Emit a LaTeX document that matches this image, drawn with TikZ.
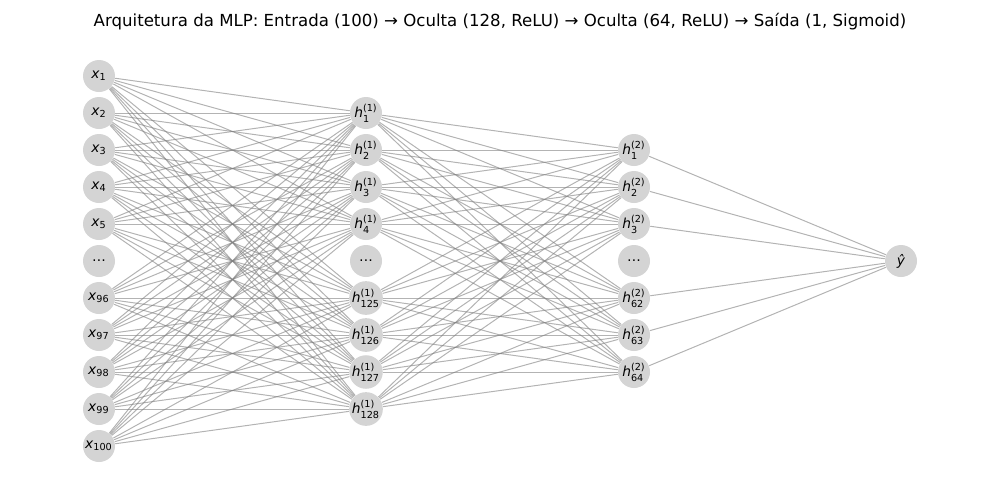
\documentclass[tikz,border=0pt]{standalone}
\usepackage{amsmath}
\usepackage{fontspec}
\setmainfont{DejaVu Sans}
\usetikzlibrary{backgrounds}

\begin{document}
\begin{tikzpicture}[
  x=0.5pt, y=-0.5pt,
  neuron/.style={circle, fill=black!17, minimum size=16pt, inner sep=0pt, font=\fontsize{6.9}{7}\selectfont},
  weight/.style={draw=gray, draw opacity=0.6, line width=0.5pt},
  title/.style={font=\fontsize{8.3}{10}\selectfont}
]
  \useasboundingbox (0,0) rectangle (1000,500);

  \node (title) at (500,22) [title] {Arquitetura da MLP: Entrada (100) → Oculta (128, ReLU) → Oculta (64, ReLU) → Saída (1, Sigmoid)};

  % entrada
  \foreach \i/\lab in {1/1,2/2,3/3,4/4,5/5,7/96,8/97,9/98,10/99,11/100}
    \node (in-\i) at (99,{76+37*(\i-1)}) [neuron] {\textit{x}\textsubscript{\lab}};
  \node (in-6) at (99,261) [neuron] {…};

  % oculta 1
  \foreach \i/\lab in {1/1,2/2,3/3,4/4,6/125,7/126,8/127,9/128}
    \node (hA-\i) at (366,{113+37*(\i-1)}) [neuron] {\textit{h}$^{\textrm{(1)}}_{\textrm{\lab}}$};
  \node (hA-5) at (366,261) [neuron] {…};

  % oculta 2
  \foreach \i/\lab in {1/1,2/2,3/3,5/62,6/63,7/64}
    \node (hB-\i) at (634,{150+37*(\i-1)}) [neuron] {\textit{h}$^{\textrm{(2)}}_{\textrm{\lab}}$};
  \node (hB-4) at (634,261) [neuron] {…};

  % saida
  \node (out) at (901,261) [neuron] {\textit{ŷ}};

  \begin{pgfonlayer}{background}
    \foreach \a in {1,2,3,4,5,7,8,9,10,11}
      \foreach \b in {1,2,3,4,6,7,8,9}
        \draw[weight] (in-\a) -- (hA-\b);
    \foreach \a in {1,2,3,4,6,7,8,9}
      \foreach \b in {1,2,3,5,6,7}
        \draw[weight] (hA-\a) -- (hB-\b);
    \foreach \a in {1,2,3,5,6,7}
      \draw[weight] (hB-\a) -- (out);
  \end{pgfonlayer}
\end{tikzpicture}
\end{document}
